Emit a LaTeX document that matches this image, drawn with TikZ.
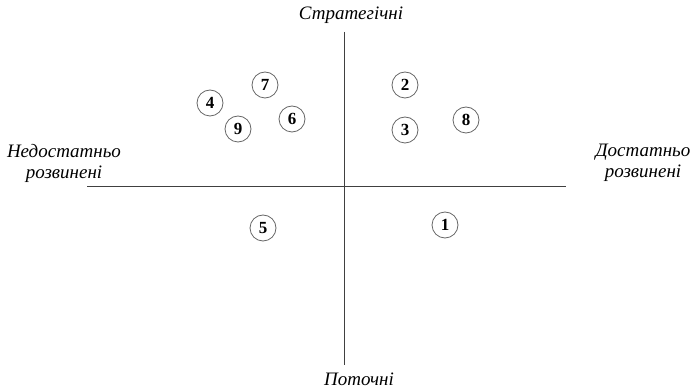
\documentclass[tikz,border=0pt]{standalone}
\usepackage{fontspec}
\setmainfont{Liberation Serif}
\begin{document}
\begin{tikzpicture}[x=1pt,y=-1pt,
  axis/.style={draw=black!75, line width=0.9pt},
  lbl/.style={font=\itshape\fontsize{19}{21}\selectfont, align=center, inner sep=0pt},
  item/.style={circle, draw=black!60, line width=0.8pt, minimum size=26pt, inner sep=0pt,
    font=\bfseries\fontsize{17}{17}\selectfont}]
\useasboundingbox[fill=white] (0,0) rectangle (694,390);
% axes
\coordinate (vt) at (344,32);
\coordinate (vb) at (344,365);
\coordinate (hl) at (87,186);
\coordinate (hr) at (566,186);
\draw[axis] (vt) -- (vb);
\draw[axis] (hl) -- (hr);
% axis labels
\node[lbl] (top) at (351,15) {Стратегічні};
\node[lbl] (bot) at (359,379) {Поточні};
\node[lbl] (left) at (64,163) {Недостатньо\\розвинені};
\node[lbl] (right) at (643,163) {Достатньо\\розвинені};
% numbered items
\node[item] (n1) at (445,225) {1};
\node[item] (n2) at (405,85) {2};
\node[item] (n3) at (405,130) {3};
\node[item] (n4) at (210,103) {4};
\node[item] (n5) at (263,228) {5};
\node[item] (n6) at (292,119) {6};
\node[item] (n7) at (265,85) {7};
\node[item] (n8) at (466,120) {8};
\node[item] (n9) at (238,129) {9};
\end{tikzpicture}
\end{document}
